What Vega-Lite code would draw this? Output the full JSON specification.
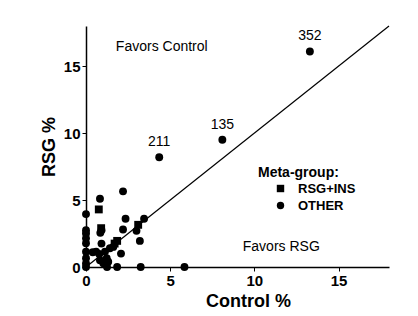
{
  "$schema": "https://vega.github.io/schema/vega-lite/v6.json",
  "width": 303,
  "height": 241,
  "autosize": "none",
  "padding": {"left": 86, "top": 26, "right": 29, "bottom": 49},
  "background": "white",
  "config": {
    "view": {"stroke": null},
    "font": "Liberation Sans",
    "axis": {
      "domainColor": "black",
      "domainWidth": 1.5,
      "tickColor": "black",
      "grid": false,
      "labelColor": "black",
      "labelFont": "Liberation Sans",
      "labelFontWeight": "bold",
      "labelFontSize": 15,
      "titleColor": "black",
      "titleFont": "Liberation Sans",
      "titleFontWeight": "bold",
      "titleFontSize": 18
    }
  },
  "datasets": {
    "pts": [
      {"control": 13.3, "rsg": 16.1, "group": "OTHER", "label": "352"},
      {"control": 8.1, "rsg": 9.5, "group": "OTHER", "label": "135"},
      {"control": 4.35, "rsg": 8.2, "group": "OTHER", "label": "211"},
      {"control": 5.85, "rsg": 0, "group": "OTHER", "label": ""},
      {"control": 3.25, "rsg": 0, "group": "OTHER", "label": ""},
      {"control": 1.85, "rsg": 0, "group": "OTHER", "label": ""},
      {"control": 1.25, "rsg": 0, "group": "OTHER", "label": ""},
      {"control": 0, "rsg": 0, "group": "OTHER", "label": ""},
      {"control": 2.2, "rsg": 5.65, "group": "OTHER", "label": ""},
      {"control": 0.83, "rsg": 5.1, "group": "OTHER", "label": ""},
      {"control": 0, "rsg": 3.95, "group": "OTHER", "label": ""},
      {"control": 2.35, "rsg": 3.6, "group": "OTHER", "label": ""},
      {"control": 3.45, "rsg": 3.6, "group": "OTHER", "label": ""},
      {"control": 3.0, "rsg": 2.7, "group": "OTHER", "label": ""},
      {"control": 2.2, "rsg": 2.8, "group": "OTHER", "label": ""},
      {"control": 0.92, "rsg": 2.75, "group": "OTHER", "label": ""},
      {"control": 0.85, "rsg": 2.55, "group": "OTHER", "label": ""},
      {"control": 3.2, "rsg": 1.95, "group": "OTHER", "label": ""},
      {"control": 2.08, "rsg": 1.0, "group": "OTHER", "label": ""},
      {"control": 0.92, "rsg": 1.75, "group": "OTHER", "label": ""},
      {"control": 0.6, "rsg": 1.15, "group": "OTHER", "label": ""},
      {"control": 1.13, "rsg": 1.15, "group": "OTHER", "label": ""},
      {"control": 1.42, "rsg": 1.4, "group": "OTHER", "label": ""},
      {"control": 1.62, "rsg": 1.5, "group": "OTHER", "label": ""},
      {"control": 1.23, "rsg": 0.65, "group": "OTHER", "label": ""},
      {"control": 0.83, "rsg": 0.5, "group": "OTHER", "label": ""},
      {"control": 1.03, "rsg": 0.28, "group": "OTHER", "label": ""},
      {"control": 1.32, "rsg": 0.4, "group": "OTHER", "label": ""},
      {"control": 0.79, "rsg": 0.97, "group": "OTHER", "label": ""},
      {"control": 0.4, "rsg": 1.1, "group": "OTHER", "label": ""},
      {"control": 0, "rsg": 2.75, "group": "OTHER", "label": ""},
      {"control": 0, "rsg": 2.5, "group": "OTHER", "label": ""},
      {"control": 0, "rsg": 2.14, "group": "OTHER", "label": ""},
      {"control": 0, "rsg": 1.77, "group": "OTHER", "label": ""},
      {"control": 0, "rsg": 1.14, "group": "OTHER", "label": ""},
      {"control": 0, "rsg": 0.65, "group": "OTHER", "label": ""},
      {"control": 0, "rsg": 0.27, "group": "OTHER", "label": ""},
      {"control": 0.76, "rsg": 4.3, "group": "RSG+INS", "label": ""},
      {"control": 3.1, "rsg": 3.15, "group": "RSG+INS", "label": ""},
      {"control": 1.85, "rsg": 1.95, "group": "RSG+INS", "label": ""},
      {"control": 0.9, "rsg": 2.9, "group": "RSG+INS", "label": ""},
      {"control": 1.7, "rsg": 1.75, "group": "RSG+INS", "label": ""}
    ],
    "diag": [
      {"control": 0, "rsg": 0},
      {"control": 18, "rsg": 18}
    ],
    "notes": [
      {"control": 4.5, "rsg": 16.4, "text": "Favors Control"},
      {"control": 11.6, "rsg": 1.5, "text": "Favors RSG"}
    ]
  },
  "layer": [
    {
      "data": {"name": "diag"},
      "mark": {"type": "line", "color": "black", "strokeWidth": 1.2},
      "encoding": {
        "x": {"field": "control", "type": "quantitative", "scale": {"domain": [0, 18], "nice": false}},
        "y": {"field": "rsg", "type": "quantitative", "scale": {"domain": [0, 18], "nice": false}}
      }
    },
    {
      "data": {"name": "pts"},
      "mark": {"type": "point", "filled": true, "opacity": 1, "size": 62},
      "encoding": {
        "x": {
          "field": "control", "type": "quantitative",
          "scale": {"domain": [0, 18], "nice": false},
          "axis": {"values": [0, 5, 10, 15], "title": "Control %", "tickSize": 4, "labelPadding": 2, "titlePadding": 4, "titleX": 162, "labelFlush": false}
        },
        "y": {
          "field": "rsg", "type": "quantitative",
          "scale": {"domain": [0, 18], "nice": false},
          "axis": {"values": [0, 5, 10, 15], "title": "RSG %", "tickSize": 4, "labelPadding": 2, "titlePadding": 5}
        },
        "shape": {
          "field": "group", "type": "nominal",
          "scale": {"domain": ["RSG+INS", "OTHER"], "range": ["square", "circle"]},
          "legend": {
            "title": "Meta-group:",
            "orient": "none",
            "legendX": 172,
            "legendY": 140,
            "titleFontSize": 14,
            "titleFontWeight": "bold",
            "titleColor": "black",
            "titleFont": "Liberation Sans",
            "titlePadding": 2,
            "labelFontSize": 13,
            "labelFontWeight": "bold",
            "labelColor": "black",
            "labelFont": "Liberation Sans",
            "labelOffset": 11,
            "symbolOffset": 16,
            "symbolSize": 55,
            "symbolFillColor": "black",
            "symbolStrokeColor": "black",
            "rowPadding": 2
          }
        },
        "color": {"value": "black"}
      }
    },
    {
      "data": {"name": "pts"},
      "mark": {"type": "text", "fontSize": 14, "dy": -15, "color": "black"},
      "encoding": {
        "x": {"field": "control", "type": "quantitative"},
        "y": {"field": "rsg", "type": "quantitative"},
        "text": {"field": "label"}
      }
    },
    {
      "data": {"name": "notes"},
      "mark": {"type": "text", "fontSize": 14, "color": "black"},
      "encoding": {
        "x": {"field": "control", "type": "quantitative"},
        "y": {"field": "rsg", "type": "quantitative"},
        "text": {"field": "text"}
      }
    }
  ]
}
